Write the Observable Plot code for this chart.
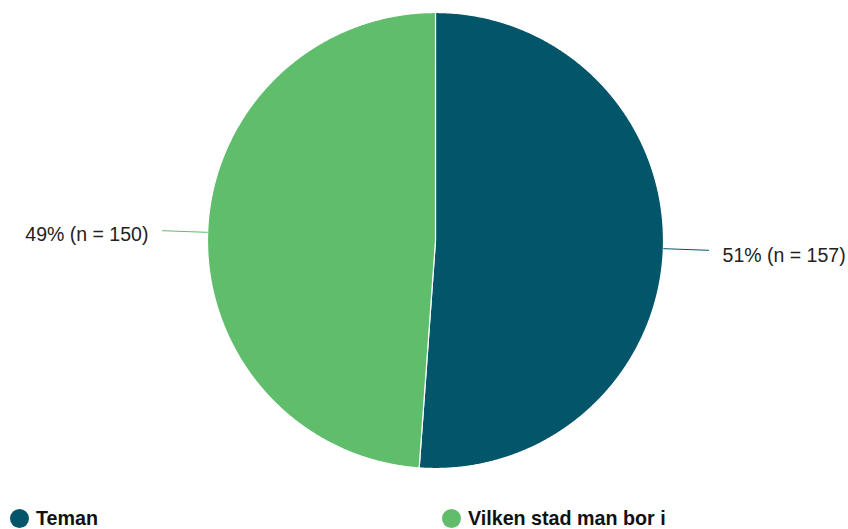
<!DOCTYPE html>
<html>
<head>
<meta charset="utf-8">
<script src="https://cdn.jsdelivr.net/npm/d3@7"></script>
<script src="https://cdn.jsdelivr.net/npm/@observablehq/plot@0.6"></script>
<style>
  body { margin: 0; background: #fff; font-family: "Liberation Sans", Arial, sans-serif; }
  #legend { position: relative; width: 848px; height: 39px; }
  .item { position: absolute; top: 17px; display: flex; align-items: center; font-weight: bold; font-size: 19.7px; color: #111; }
  .sw { width: 19px; height: 19px; border-radius: 50%; margin-right: 7px; }
</style>
</head>
<body>
<div id="chart"></div>
<div id="legend"></div>
<script>
const categories = ["Teman", "Vilken stad man bor i"];
const counts = [157, 150];
const colors = ["#03566a", "#5fbd6b"];

const total = d3.sum(counts);
const arcs = d3.pie().sort(null).value(d => d)(counts);

// slice polygons (unit radius, angle clockwise from top)
const slicePts = [];
arcs.forEach((a, i) => {
  const n = Math.max(2, Math.ceil((a.endAngle - a.startAngle) / 0.005));
  slicePts.push({name: categories[i], x: 0, y: 0});
  for (let k = 0; k <= n; k++) {
    const t = a.startAngle + (a.endAngle - a.startAngle) * k / n;
    slicePts.push({name: categories[i], x: Math.sin(t), y: Math.cos(t)});
  }
  slicePts.push({name: categories[i], x: 0, y: 0});
});

const labels = arcs.map((a, i) => {
  const m = (a.startAngle + a.endAngle) / 2;
  return {
    name: categories[i],
    x1: Math.sin(m), y1: Math.cos(m),
    x2: 1.2 * Math.sin(m), y2: 1.2 * Math.cos(m),
    tx: 1.26 * Math.sin(m), ty: 1.26 * Math.cos(m),
    side: Math.sin(m) >= 0 ? "right" : "left",
    text: `${Math.round(100 * counts[i] / total)}% (n = ${counts[i]})`
  };
});

const R = 228;
const chart = Plot.plot({
  width: 848,
  height: 490,
  margin: 0,
  x: {domain: [-435 / R, 413 / R], axis: null},
  y: {domain: [-250 / R, 240 / R], axis: null},
  color: {domain: categories, range: colors},
  style: {fontFamily: "'Liberation Sans', Arial, sans-serif", background: "#fff"},
  marks: [
    Plot.line(slicePts, {x: "x", y: "y", z: "name", fill: "name", stroke: "white", strokeWidth: 1.2, curve: "linear"}),
    Plot.link(labels, {x1: "x1", y1: "y1", x2: "x2", y2: "y2", stroke: "name", strokeWidth: 1}),
    Plot.text(labels.filter(d => d.side === "right"), {x: "tx", y: "ty", text: "text", textAnchor: "start", dy: 5, fontSize: 19.5, fill: "#222"}),
    Plot.text(labels.filter(d => d.side === "left"), {x: "tx", y: "ty", text: "text", textAnchor: "end", dy: 5, fontSize: 19.5, fill: "#222"})
  ]
});
document.getElementById("chart").appendChild(chart);

const legend = document.getElementById("legend");
const lx = [10, 442];
categories.forEach((c, i) => {
  const it = document.createElement("div");
  it.className = "item";
  it.style.left = lx[i] + "px";
  it.innerHTML = `<span class="sw" style="background:${colors[i]}"></span><span>${c}</span>`;
  legend.appendChild(it);
});
</script>
</body>
</html>
